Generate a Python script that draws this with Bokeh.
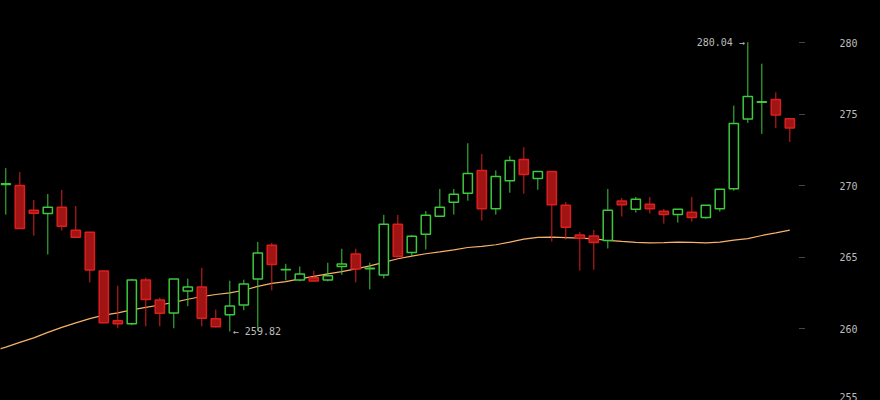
import numpy as np
from bokeh.plotting import figure
from bokeh.models import ColumnDataSource, FixedTicker, GlobalInlineStyleSheet
from bokeh.core.properties import value
from bokeh.embed import file_html
from bokeh.resources import INLINE

opens = [270.10, 270.03, 268.29, 268.06, 268.50, 266.90, 266.76, 264.04, 260.56, 260.35,
         263.41, 262.02, 261.11, 262.65, 262.93, 260.70, 260.98, 261.67, 263.48, 265.85,
         264.13, 263.41, 263.58, 263.41, 264.36, 265.23, 264.20, 263.76, 267.32, 265.34,
         266.62, 267.87, 268.85, 269.48, 271.08, 268.40, 270.36, 271.85, 270.52, 271.01,
         268.64, 266.57, 266.50, 266.17, 268.94, 268.36, 268.71, 268.22, 267.99, 268.15,
         267.78, 268.40, 269.80, 274.68, 275.84, 276.03, 274.70]
highs = [271.24, 270.96, 269.01, 269.43, 269.71, 268.59, 266.78, 264.05, 263.02, 263.50,
         263.58, 262.18, 263.48, 263.51, 264.27, 261.35, 263.37, 263.44, 266.08, 266.01,
         264.55, 264.36, 264.06, 264.62, 265.60, 265.60, 264.62, 267.97, 267.97, 266.57,
         268.24, 269.78, 269.78, 272.98, 272.22, 271.08, 272.08, 272.70, 271.03, 271.03,
         268.87, 266.78, 266.92, 269.78, 269.15, 269.22, 269.22, 268.38, 268.38, 269.22,
         268.66, 269.80, 275.61, 280.04, 278.54, 276.54, 274.72]
lows = [267.99, 267.00, 266.52, 265.20, 266.87, 266.38, 263.25, 260.40, 260.04, 260.26,
        260.18, 260.18, 260.04, 261.58, 260.18, 260.10, 259.82, 261.30, 259.85, 262.69,
        263.39, 263.32, 263.32, 263.32, 263.78, 263.25, 262.76, 263.53, 265.04, 265.10,
        265.55, 267.85, 267.99, 268.96, 267.57, 267.99, 269.52, 269.45, 269.73, 266.10,
        266.24, 264.08, 264.13, 265.62, 267.85, 268.13, 268.06, 267.36, 267.43, 267.50,
        267.70, 268.20, 269.66, 274.40, 273.63, 274.05, 273.07]
closes = [270.15, 267.01, 268.08, 268.50, 267.18, 266.41, 264.11, 260.42, 260.35, 263.41,
          262.06, 261.09, 263.48, 262.93, 260.74, 260.14, 261.60, 263.14, 265.30, 264.50,
          264.15, 263.83, 263.34, 263.71, 264.53, 264.18, 264.23, 267.32, 265.06, 266.48,
          267.94, 268.50, 269.41, 270.87, 268.40, 270.66, 271.78, 270.80, 271.01, 268.68,
          267.11, 266.34, 266.03, 268.29, 268.68, 269.06, 268.40, 267.99, 268.36, 267.78,
          268.64, 269.76, 274.36, 276.24, 275.88, 274.95, 274.05]
# moving average, first value belongs to the period before the first candle
ma = [258.45, 258.72, 259.05, 259.37, 259.75, 260.10, 260.42, 260.72, 260.96, 261.12,
      261.33, 261.50, 261.67, 261.85, 262.07, 262.26, 262.40, 262.52, 262.70, 262.97,
      263.18, 263.30, 263.50, 263.67, 263.85, 264.00, 264.20, 264.40, 264.65, 264.90,
      265.08, 265.25, 265.38, 265.52, 265.69, 265.77, 265.88, 266.06, 266.27, 266.40,
      266.41, 266.38, 266.34, 266.29, 266.19, 266.11, 266.05, 266.01, 266.03, 266.06,
      266.04, 266.01, 266.06, 266.20, 266.31, 266.53, 266.71, 266.90]
y_ticks = [255, 260, 265, 270, 275, 280]

UP = "#3ec83e"
DOWN_LINE = "#dc1e1e"
DOWN_FILL = "#a01414"
MA_COLOR = "#f6b26b"
TEXT_COLOR = "#bdbdbd"
FONT = "DejaVu Sans Mono"

n = len(opens)
idx = np.arange(n)
o = np.array(opens); c = np.array(closes)
up = c >= o
src = ColumnDataSource(dict(
    x=idx, high=highs, low=lows,
    top=np.maximum(o, c), bottom=np.minimum(o, c),
    line=[UP if u else DOWN_LINE for u in up],
    fill=["#000000" if u else DOWN_FILL for u in up],
))

p = figure(width=880, height=400, output_backend="svg", toolbar_location=None,
           x_range=(-0.379, 56.62), y_range=(254.99, 282.96),
           x_axis_location=None, y_axis_location="right",
           background_fill_color="#000000", border_fill_color="#000000",
           min_border_left=0, min_border_top=0, min_border_bottom=0, min_border_right=82)
p.outline_line_color = None
p.grid.visible = False
p.stylesheets = [GlobalInlineStyleSheet(css="html,body{margin:0;padding:0;background:#000;overflow:hidden}")]

ax = p.yaxis[0]
ax.ticker = FixedTicker(ticks=y_ticks)
ax.axis_line_color = None
ax.major_tick_in = 0
ax.major_tick_out = 6
ax.major_tick_line_color = "#8a8a8a"
ax.major_tick_line_dash = "1 1"
ax.minor_tick_line_color = None
ax.major_label_standoff = 35
ax.major_label_text_color = TEXT_COLOR
ax.major_label_text_font = FONT
ax.major_label_text_font_size = "10px"

# moving average
p.line(x=np.arange(-1, n), y=ma, line_color=MA_COLOR, line_width=1.2)

# wicks and bodies
p.segment(x0="x", y0="high", x1="x", y1="low", source=src, line_color="line", line_width=1)
p.vbar(x="x", top="top", bottom="bottom", width=0.66, source=src,
       fill_color="fill", line_color="line", line_width=1.5)

# max / min annotations
hi_i = int(np.argmax(highs)); lo_i = int(np.argmin(lows))
p.text(x=[hi_i], y=[highs[hi_i]], text=[f"{highs[hi_i]:.2f} \u2192"], x_offset=-3,
       text_align="right", text_baseline="middle", text_color=TEXT_COLOR,
       text_font=value(FONT), text_font_size="10px")
p.text(x=[lo_i], y=[lows[lo_i]], text=[f"\u2190 {lows[lo_i]:.2f}"], x_offset=3,
       text_align="left", text_baseline="middle", text_color=TEXT_COLOR,
       text_font=value(FONT), text_font_size="10px")

open("out.html", "w").write(file_html(p, INLINE))
